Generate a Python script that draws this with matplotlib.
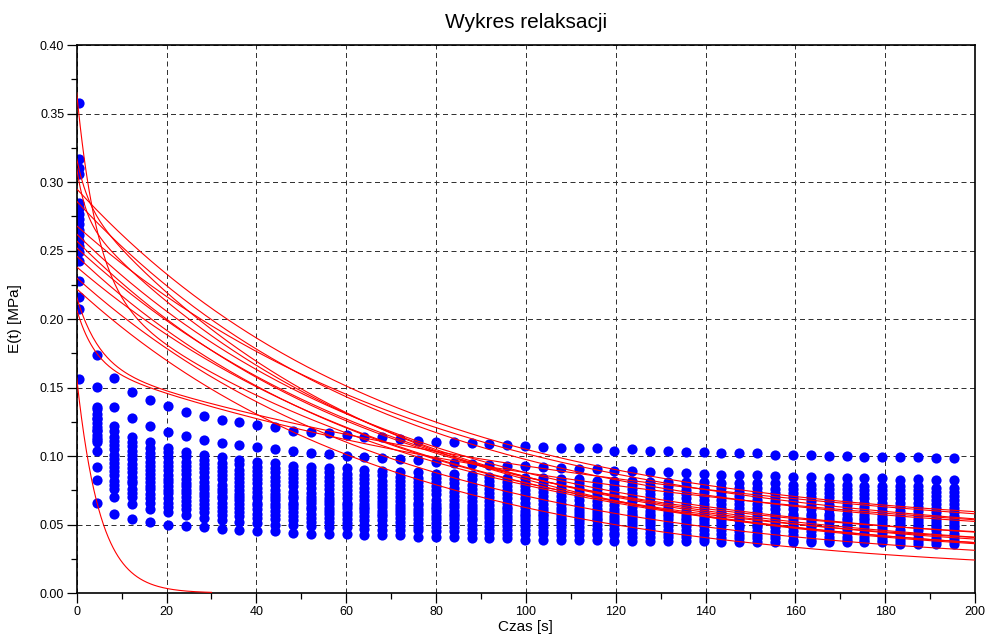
import numpy as np
import matplotlib
matplotlib.use('Agg')
from matplotlib import pyplot as plt
from matplotlib import font_manager
from matplotlib.ticker import MultipleLocator, FormatStrFormatter

# measurement times [s]
times = [0.45, 4.43, 8.40, 12.38, 16.35, 20.33, 24.30, 28.28, 32.25, 36.23,
         40.20, 44.18, 48.15, 52.13, 56.10, 60.08, 64.05, 68.03, 72.00, 75.98,
         79.95, 83.93, 87.90, 91.88, 95.85, 99.83, 103.80, 107.78, 111.75, 115.73,
         119.70, 123.68, 127.65, 131.63, 135.60, 139.58, 143.55, 147.53, 151.50, 155.48,
         159.45, 163.43, 167.40, 171.38, 175.35, 179.33, 183.30, 187.28, 191.25, 195.23]

# measured E(t), in 1e-3 MPa
series_a = [207, 174, 157, 147, 141, 136.5, 132.4, 129, 126.5, 124.5, 122.6, 120.9, 118.5, 117.7, 116.6, 115.3, 114.1, 113.7, 112.2, 111.2, 110.4, 110.0, 109.3, 108.8, 108.0, 107.3, 106.3, 105.6, 105.6, 105.6, 103.9, 104.9, 103.6, 103.9, 103.1, 102.7, 102.4, 102.0, 102.0, 100.7, 100.7, 100.7, 100.0, 100.0, 99.0, 99.0, 99.0, 99.0, 98.3, 98.3]
series_b = [216, 150.6, 136, 127.5, 121.9, 117.8, 114.6, 111.5, 109.5, 108, 106.8, 104.9, 103.9, 102.0, 101.5, 100.0, 99.0, 98.3, 97.6, 97.1, 95.8, 94.7, 94.2, 93.4, 93.0, 92.7, 91.7, 91.0, 90.3, 90.3, 89.3, 89.3, 88.1, 88.1, 87.4, 86.9, 86.1, 86.3, 86.1, 85.4, 84.9, 84.9, 83.7, 83.7, 83.7, 83.7, 82.5, 83.0, 82.5, 82.5]
series_c01 = [358, 136, 122, 114, 110, 106, 103, 101, 99, 97, 96, 95, 93, 92, 91, 91, 90, 89, 88, 88, 87, 87, 86, 85, 84, 84, 84, 83, 83, 82, 82, 82, 81, 81, 81, 81, 80, 80, 80, 80, 79, 79, 79, 79, 78, 78, 78, 78, 77, 77]
series_c02 = [317, 134, 118, 110, 106, 103, 100, 97, 95, 94, 92, 91, 90, 89, 88, 87, 86, 86, 85, 84, 84, 83, 83, 82, 81, 81, 80, 80, 80, 79, 79, 79, 78, 78, 78, 77, 77, 77, 77, 76, 76, 76, 76, 76, 75, 75, 75, 75, 74, 74]
series_c03 = [310, 131, 114, 107, 102, 99, 96, 94, 92, 90, 89, 88, 87, 86, 85, 84, 83, 82, 82, 81, 81, 80, 79, 79, 78, 78, 77, 77, 77, 76, 76, 76, 75, 75, 75, 74, 74, 74, 74, 73, 73, 73, 73, 73, 72, 72, 72, 72, 71, 71]
series_c04 = [306, 128, 111, 104, 99, 96, 93, 91, 89, 87, 86, 85, 84, 83, 82, 81, 80, 79, 79, 78, 78, 77, 76, 76, 75, 75, 74, 74, 74, 73, 73, 73, 72, 72, 72, 71, 71, 71, 71, 70, 70, 70, 70, 70, 69, 69, 69, 69, 68, 68]
series_c05 = [285, 127, 108, 101, 96, 93, 90, 88, 86, 84, 83, 82, 81, 80, 79, 78, 77, 76, 76, 75, 75, 74, 73, 73, 72, 72, 71, 71, 71, 70, 70, 70, 69, 69, 69, 68, 68, 68, 68, 67, 67, 67, 67, 67, 66, 66, 66, 66, 65, 65]
series_c06 = [281, 124, 105, 98, 93, 90, 87, 85, 83, 81, 80, 79, 78, 77, 76, 75, 74, 73, 73, 72, 72, 71, 70, 70, 69, 69, 68, 68, 68, 67, 67, 67, 66, 66, 66, 65, 65, 65, 65, 64, 64, 64, 64, 64, 63, 63, 63, 63, 62, 62]
series_c07 = [277, 121, 101, 94, 90, 86, 83, 81, 79, 78, 77, 75, 74, 73, 72, 72, 71, 70, 70, 69, 68, 68, 67, 67, 66, 66, 65, 65, 64, 64, 64, 63, 63, 63, 63, 62, 62, 62, 62, 61, 61, 61, 61, 61, 60, 60, 60, 60, 59, 59]
series_c08 = [273, 119, 98, 91, 87, 83, 80, 78, 76, 75, 74, 72, 71, 70, 69, 69, 68, 67, 67, 66, 65, 65, 64, 64, 63, 63, 62, 62, 61, 61, 61, 60, 60, 60, 60, 59, 59, 59, 59, 58, 58, 58, 58, 58, 57, 57, 57, 57, 56, 56]
series_c09 = [269, 118, 95, 88, 84, 81, 78, 76, 74, 72, 71, 70, 69, 68, 67, 66, 65, 65, 64, 64, 63, 63, 62, 61, 61, 60, 60, 60, 59, 59, 59, 58, 58, 58, 57, 57, 57, 57, 56, 56, 56, 56, 56, 55, 55, 55, 55, 54, 54, 54]
series_c10 = [265, 115, 92, 85, 81, 78, 75, 73, 71, 70, 69, 68, 66, 66, 65, 64, 63, 63, 62, 61, 61, 60, 60, 59, 59, 58, 58, 57, 57, 57, 56, 56, 56, 56, 55, 55, 55, 55, 54, 54, 54, 54, 54, 53, 53, 53, 53, 52, 52, 52]
series_c11 = [261, 113, 89, 82, 78, 75, 73, 71, 69, 68, 66, 65, 64, 63, 62, 62, 61, 60, 60, 59, 59, 58, 58, 57, 56, 56, 56, 55, 55, 55, 54, 54, 54, 54, 53, 53, 53, 53, 52, 52, 52, 52, 52, 51, 51, 51, 51, 50, 50, 50]
series_c12 = [257, 112, 86, 80, 76, 73, 70, 68, 66, 65, 64, 63, 62, 61, 60, 59, 59, 58, 58, 57, 56, 56, 55, 55, 54, 54, 54, 53, 53, 53, 52, 52, 52, 51, 51, 51, 51, 50, 50, 50, 50, 50, 49, 49, 49, 49, 49, 48, 48, 48]
series_c13 = [253, 104, 82, 76, 72, 69, 67, 65, 63, 62, 61, 60, 59, 58, 58, 57, 56, 56, 55, 54, 54, 54, 53, 52, 52, 52, 51, 51, 51, 50, 50, 50, 50, 49, 49, 49, 49, 48, 48, 48, 48, 48, 47, 47, 47, 47, 46, 46, 46, 46]
series_c14 = [249, 92, 79, 73, 69, 66, 64, 62, 60, 59, 58, 57, 56, 55, 55, 54, 53, 53, 52, 51, 51, 51, 50, 49, 49, 49, 48, 48, 48, 47, 47, 47, 47, 46, 46, 46, 46, 45, 45, 45, 45, 45, 44, 44, 44, 44, 43, 43, 43, 43]
series_c15 = [242, 82.5, 76, 70, 66, 63, 61, 59, 57, 56, 55, 54, 53, 52, 52, 51, 50, 50, 49, 48, 48, 48, 47, 46, 46, 46, 45, 45, 45, 44, 44, 44, 44, 43, 43, 43, 43, 42, 42, 42, 42, 42, 41, 41, 41, 41, 40, 40, 40, 40]
series_c16 = [228, 110, 70, 65, 61, 59, 57, 55, 53, 52, 51, 50, 50, 49, 48, 48, 47, 46, 46, 46, 45, 45, 44, 44, 43, 43, 43, 42, 42, 42, 42, 41, 41, 41, 41, 40, 40, 40, 40, 40, 39, 39, 39, 39, 39, 39, 38, 38, 38, 38]
series_f = [156, 66, 58, 54, 52, 50, 49, 48, 47, 46, 45, 45, 44, 43, 43, 43, 42, 42, 42, 41, 41, 41, 40, 40, 40, 39, 39, 39, 39, 39, 38, 38, 38, 38, 38, 38, 37, 37, 37, 37, 37, 37, 37, 37, 37, 37, 36, 36, 36, 36]

all_series = [series_a, series_b, series_c01, series_c02, series_c03, series_c04,
              series_c05, series_c06, series_c07, series_c08, series_c09, series_c10,
              series_c11, series_c12, series_c13, series_c14, series_c15, series_c16,
              series_f]

# fitted relaxation model: E = Einf + E1*exp(-t/tau1) + E2*exp(-t/tau2)  [MPa, s]
fit_einf = [0.045, 0.038, 0.035, 0.030, 0.033, 0.025, 0.028, 0.020, 0.018, 0.012,
            0.020, 0.022, 0.025, 0.027, 0.026, 0.0]
fit_e1 = [0.250, 0.248, 0.233, 0.232, 0.224, 0.227, 0.218, 0.218, 0.212, 0.210,
          0.205, 0.265, 0.250, 0.140, 0.140, 0.157]
fit_tau1 = [70, 70, 80, 72, 68, 75, 70, 78, 72, 70,
            80, 68, 70, 120, 135, 5.2]
fit_e2 = [0, 0, 0, 0, 0, 0, 0, 0, 0, 0,
          0.140, 0.030, 0.035, 0.040, 0.050, 0]
fit_tau2 = [1, 1, 1, 1, 1, 1, 1, 1, 1, 1,
            4.5, 2.5, 2.0, 4.0, 5.0, 1]
fit_tend = [200] * 15 + [30]

names = {f.name for f in font_manager.fontManager.ttflist}
plt.rcParams['font.family'] = ['Liberation Sans' if 'Liberation Sans' in names else 'DejaVu Sans']

t = np.array(times)
fig = plt.figure(figsize=(9.86, 6.4), dpi=100)
ax = fig.add_axes([0.0778, 0.0734, 0.9111, 0.85625])

for s in all_series:
    ax.scatter(t, np.array(s) / 1000.0, s=54, color='#0000ff', linewidths=0, zorder=2)

for i in range(len(fit_einf)):
    tt = np.linspace(0, fit_tend[i], 500)
    e = fit_einf[i] + fit_e1[i] * np.exp(-tt / fit_tau1[i]) + fit_e2[i] * np.exp(-tt / fit_tau2[i])
    ax.plot(tt, e, color='#ff0000', lw=0.8, zorder=3)

ax.set_xlim(0, 200)
ax.set_ylim(0, 0.4)
ax.xaxis.set_major_locator(MultipleLocator(20))
ax.xaxis.set_minor_locator(MultipleLocator(10))
ax.yaxis.set_major_locator(MultipleLocator(0.05))
ax.yaxis.set_minor_locator(MultipleLocator(0.025))
ax.yaxis.set_major_formatter(FormatStrFormatter('%.2f'))

ax.set_axisbelow(True)
ax.grid(which='major', color='#333333', linestyle=(0, (5, 3.5)), linewidth=0.72)
ax.tick_params(which='major', direction='out', length=7, width=0.9, labelsize=9, pad=2)
ax.tick_params(which='minor', direction='out', length=4.5, width=0.9)
for sp in ax.spines.values():
    sp.set_linewidth(1.2)

ax.set_title('Wykres relaksacji', fontsize=15, pad=12)
ax.set_xlabel('Czas [s]', fontsize=11, labelpad=2)
ax.set_ylabel('E(t) [MPa]', fontsize=11, labelpad=13)

fig.savefig('out.png', dpi=100)
